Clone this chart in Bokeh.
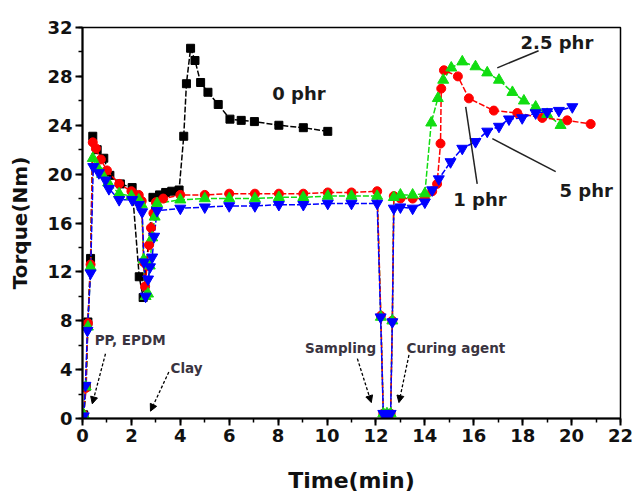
from bokeh.plotting import figure
from bokeh.models import Range1d, Label, Arrow, NormalHead, SingleIntervalTicker
from bokeh.embed import file_html
from bokeh.resources import INLINE

# ---- data ----
t_0phr = [0.05, 0.15, 0.22, 0.33, 0.42, 0.6, 0.87, 1.12, 1.55, 2.03, 2.32, 2.48, 2.88, 3.15, 3.4, 3.65, 3.95,
          4.14, 4.25, 4.42, 4.6, 4.83, 5.13, 5.55, 6.03, 6.49, 7.03, 8.03, 9.03, 10.03]
y_0phr = [0.3, 2.6, 7.9, 13.1, 23.1, 22.0, 21.3, 19.9, 19.2, 18.9, 11.6, 9.9, 18.1, 18.3, 18.5, 18.6, 18.7,
          23.1, 27.4, 30.3, 29.3, 27.5, 26.7, 25.7, 24.5, 24.4, 24.3, 24.0, 23.8, 23.5]

t_1phr = [0.05, 0.13, 0.22, 0.33, 0.42, 0.55, 0.75, 1.0, 1.5, 2.0, 2.3, 2.42, 2.5, 2.56, 2.64, 2.72, 2.8, 2.9,
          3.0, 3.3, 4.0, 5.0, 6.0, 7.05, 8.03, 9.03, 10.03, 11.0, 12.05, 12.2, 12.3, 12.45, 12.6, 12.67, 12.73,
          13.0, 13.5, 14.0, 14.3, 14.5, 14.64, 14.67, 14.78, 15.35, 15.8, 16.82, 17.78, 18.8, 19.82, 20.78]
y_1phr = [0.3, 2.5, 7.8, 12.6, 22.6, 22.1, 21.2, 20.3, 19.2, 18.6, 18.3, 17.8, 12.8, 10.8, 12.5, 14.2, 15.6, 16.8,
          17.7, 18.0, 18.3, 18.3, 18.4, 18.4, 18.4, 18.4, 18.5, 18.5, 18.6, 8.4, 0.4, 0.4, 0.4, 8.0, 18.2,
          18.0, 18.0, 18.0, 18.6, 19.2, 22.5, 27.0, 28.5, 28.0, 26.2, 25.2, 25.0, 24.6, 24.4, 24.1]

t_25phr = [0.05, 0.13, 0.22, 0.33, 0.42, 0.6, 0.8, 1.05, 1.5, 2.0, 2.3, 2.42, 2.5, 2.58, 2.68, 2.75, 2.85, 2.95,
           3.05, 4.0, 5.0, 6.0, 7.05, 8.03, 9.03, 10.03, 11.0, 12.05, 12.2, 12.3, 12.45, 12.6, 12.67, 12.73,
           13.0, 13.5, 14.0, 14.26, 14.53, 14.75, 15.08, 15.53, 16.07, 16.55, 17.03, 17.58, 18.05, 18.53, 19.0, 19.55]
y_25phr = [0.3, 2.6, 7.5, 12.4, 21.3, 20.6, 20.0, 19.3, 18.4, 18.2, 17.9, 17.5, 13.0, 10.0, 10.2, 12.5, 14.8, 16.5,
           17.6, 17.9, 18.0, 18.0, 18.0, 18.1, 18.1, 18.2, 18.2, 18.2, 8.3, 0.4, 0.4, 0.4, 8.0, 18.1,
           18.3, 18.3, 18.4, 24.2, 26.2, 27.7, 28.7, 29.2, 28.8, 28.3, 27.7, 26.7, 26.0, 25.5, 24.9, 24.0]

t_5phr = [0.05, 0.12, 0.2, 0.33, 0.44, 0.67, 0.94, 1.08, 1.5, 2.03, 2.3, 2.44, 2.52, 2.58, 2.68, 2.76, 2.85, 2.93,
          3.05, 4.0, 5.0, 6.0, 7.05, 8.03, 9.03, 10.03, 11.0, 12.05, 12.19, 12.3, 12.45, 12.6, 12.67, 12.73,
          13.0, 13.5, 14.0, 14.3, 14.57, 15.05, 15.53, 16.07, 16.55, 17.03, 17.44, 17.98, 18.53, 19.0, 19.48, 20.03]
y_5phr = [0.2, 2.7, 7.2, 11.9, 20.6, 20.1, 19.5, 18.8, 17.9, 17.9, 17.5, 16.9, 12.8, 10.0, 11.4, 12.4, 13.2, 14.9,
          17.0, 17.2, 17.3, 17.4, 17.4, 17.5, 17.5, 17.6, 17.6, 17.6, 8.3, 0.4, 0.4, 0.4, 7.9, 17.2,
          17.3, 17.2, 17.7, 18.7, 19.6, 21.0, 22.1, 22.65, 23.5, 23.9, 24.5, 24.6, 25.0, 25.1, 25.2, 25.5]

x_tick_step = 2
y_tick_step = 4

# series labels: (text, x, y) and leader lines (x0, y0, x1, y1)
series_labels = [("0 phr", 8.85, 26.6), ("2.5 phr", 19.4, 30.8), ("1 phr", 16.25, 17.9), ("5 phr", 20.6, 18.7)]
leaders = [(18.65, 30.1, 16.96, 28.7), (16.14, 19.2, 15.67, 25.5), (19.35, 20.2, 16.76, 22.9)]
# event annotations: (text, x_left, y) and arrows (x0, y0, x1, y1)
events = [("PP, EPDM", 0.5, 6.4), ("Clay", 3.6, 4.1), ("Sampling", 9.1, 5.8), ("Curing agent", 13.25, 5.8)]
event_arrows = [(0.94, 5.3, 0.40, 1.2), (3.53, 3.8, 2.78, 0.6), (11.24, 4.9, 11.81, 1.3), (13.35, 5.2, 12.94, 1.3)]

FONT = "DejaVu Sans"

p = figure(width=634, height=496, output_backend="svg", toolbar_location=None,
           x_range=Range1d(0, 22), y_range=Range1d(0, 32),
           min_border_left=82, min_border_right=14, min_border_top=27, min_border_bottom=78)
p.grid.visible = False
p.outline_line_color = "black"
p.outline_line_width = 1.5
p.background_fill_color = "white"
p.border_fill_color = "white"

for ax in (p.xaxis[0], p.yaxis[0]):
    ax.axis_line_width = 2
    ax.major_tick_line_width = 2
    ax.minor_tick_line_width = 1.5
    ax.major_tick_out = 7
    ax.major_tick_in = 0
    ax.minor_tick_out = 4
    ax.minor_tick_in = 0
    ax.major_label_text_font = FONT
    ax.major_label_text_font_style = "bold"
    ax.major_label_text_font_size = "18px"
    ax.major_label_text_color = "#111111"
    ax.axis_label_text_font = FONT
    ax.axis_label_text_font_style = "bold"
    ax.axis_label_text_color = "#111111"
    ax.major_label_standoff = 3

p.xaxis.ticker = SingleIntervalTicker(interval=x_tick_step, num_minor_ticks=2)
p.yaxis.ticker = SingleIntervalTicker(interval=y_tick_step, num_minor_ticks=2)
p.xaxis.axis_label = "Time(min)"
p.yaxis.axis_label = "Torque(Nm)"
p.xaxis.axis_label_text_font_size = "22px"
p.yaxis.axis_label_text_font_size = "20px"
p.xaxis.axis_label_standoff = 23
p.yaxis.axis_label_standoff = 12

dash = "6 2"
p.line(t_0phr, y_0phr, line_color="black", line_width=1.5, line_dash=dash)
p.scatter(t_0phr, y_0phr, marker="square", size=8, fill_color="black", line_color="black")

p.line(t_25phr, y_25phr, line_color="#11dd11", line_width=1.5, line_dash=dash)
p.line(t_1phr, y_1phr, line_color="red", line_width=1.5, line_dash=dash)
p.line(t_5phr, y_5phr, line_color="blue", line_width=1.5, line_dash=dash)

p.scatter(t_1phr, y_1phr, marker="circle", size=9, fill_color="red", line_color="red")
p.scatter(t_25phr, y_25phr, marker="triangle", size=11, fill_color="#11dd11", line_color="#11dd11")
p.scatter(t_5phr, y_5phr, marker="inverted_triangle", size=11, fill_color="blue", line_color="blue")

for (txt, x, y) in series_labels:
    p.add_layout(Label(x=x, y=y, text=txt, text_align="center", text_baseline="middle",
                       text_font=FONT, text_font_style="bold", text_font_size="18px", text_color="#1a1a1a"))

p.segment(x0=[l[0] for l in leaders], y0=[l[1] for l in leaders],
          x1=[l[2] for l in leaders], y1=[l[3] for l in leaders], line_color="#222222", line_width=1.5)

for (txt, x, y) in events:
    p.add_layout(Label(x=x, y=y, text=txt, text_align="left", text_baseline="middle",
                       text_font=FONT, text_font_style="bold", text_font_size="13.5px", text_color="#3a3440"))

for (x0, y0, x1, y1) in event_arrows:
    p.add_layout(Arrow(end=NormalHead(size=7, fill_color="black", line_color="black"),
                       x_start=x0, y_start=y0, x_end=x1, y_end=y1,
                       line_color="black", line_width=1.3, line_dash="3 2"))

open("out.html", "w").write(file_html(p, INLINE))
